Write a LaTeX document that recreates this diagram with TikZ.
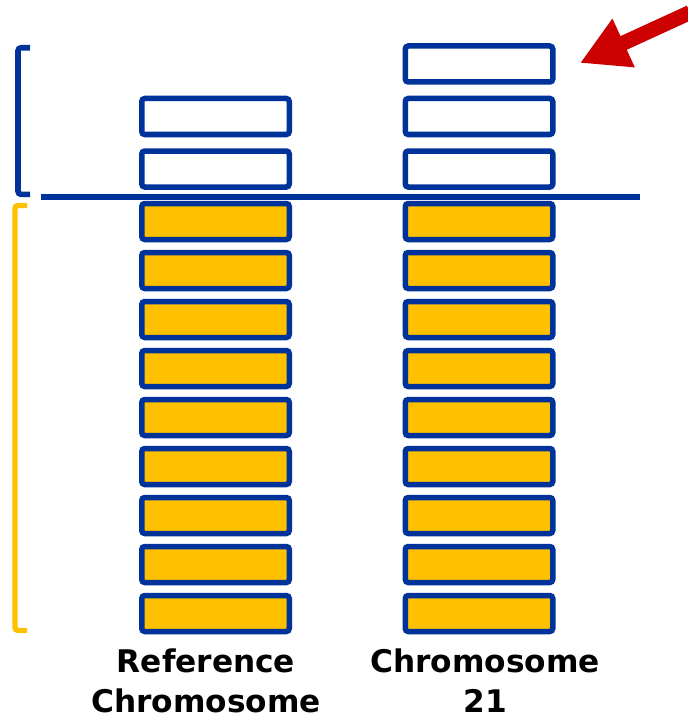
\documentclass[tikz,border=0pt]{standalone}
\usepackage{fontspec}
\setmainfont{DejaVu Sans}
\usetikzlibrary{arrows.meta}
\usetikzlibrary{positioning}

\definecolor{chromblue}{HTML}{003399}
\definecolor{chromyellow}{HTML}{FFC000}
\definecolor{arrowred}{HTML}{CC0000}

\begin{document}
\begin{tikzpicture}[x=0.5pt, y=-0.5pt,
    band/.style={draw=chromblue, line width=2.75pt, rounded corners=1.5pt,
                 minimum width=73.75pt, minimum height=18pt, inner sep=0pt},
    extraband/.style={band, fill=white},
    normalband/.style={band, fill=chromyellow},
    caption/.style={font=\bfseries\fontsize{15.6}{20}\selectfont, align=center, inner sep=0pt}]
            \useasboundingbox (0,0) rectangle (688,717);

            % yellow bands, both columns
            \foreach \i in {1,2,...,9}
            {
                \node[normalband] (ref-\i) at (215.5, {172.5+49*\i}) {};
                \node[normalband] (chr-\i) at (479, {172.5+49*\i}) {};
            }

            % extra white bands
            \foreach \i in {1,2}
                \node[extraband] (ref-x\i) at (215.5, {221.5-52.5*\i}) {};
            \foreach \i in {1,2,3}
                \node[extraband] (chr-x\i) at (479, {221.5-52.5*\i}) {};

            % split line
            \coordinate (split-l) at (41,196.5);
            \coordinate (split-r) at (640,196.5);
            \draw[chromblue, line width=3pt] (split-l) -- (split-r);

            % brackets
            \draw[chromblue, line width=2.8pt, rounded corners=1.5pt]
                (30,47.8) -- (18,47.8) -- (18,194.3) -- (30,194.3);
            \draw[chromyellow, line width=2.7pt, rounded corners=1.5pt]
                (27,205.5) -- (15,205.5) -- (15,630.5) -- (27,630.5);

            % arrow
            \coordinate (arrow-start) at (690,12.5);
            \coordinate (arrow-tip) at (580,63);
            \draw[arrowred, line width=7.5pt, -{Triangle[length=24pt, width=25pt]}]
                (arrow-start) -- (arrow-tip);

            % captions
            \node[caption, anchor=north] (ref-caption) at (206,648) {Reference\\Chromosome};
            \node[caption, anchor=north] (chr-caption) at (485,648) {Chromosome\\21};
        \end{tikzpicture}
\end{document}
